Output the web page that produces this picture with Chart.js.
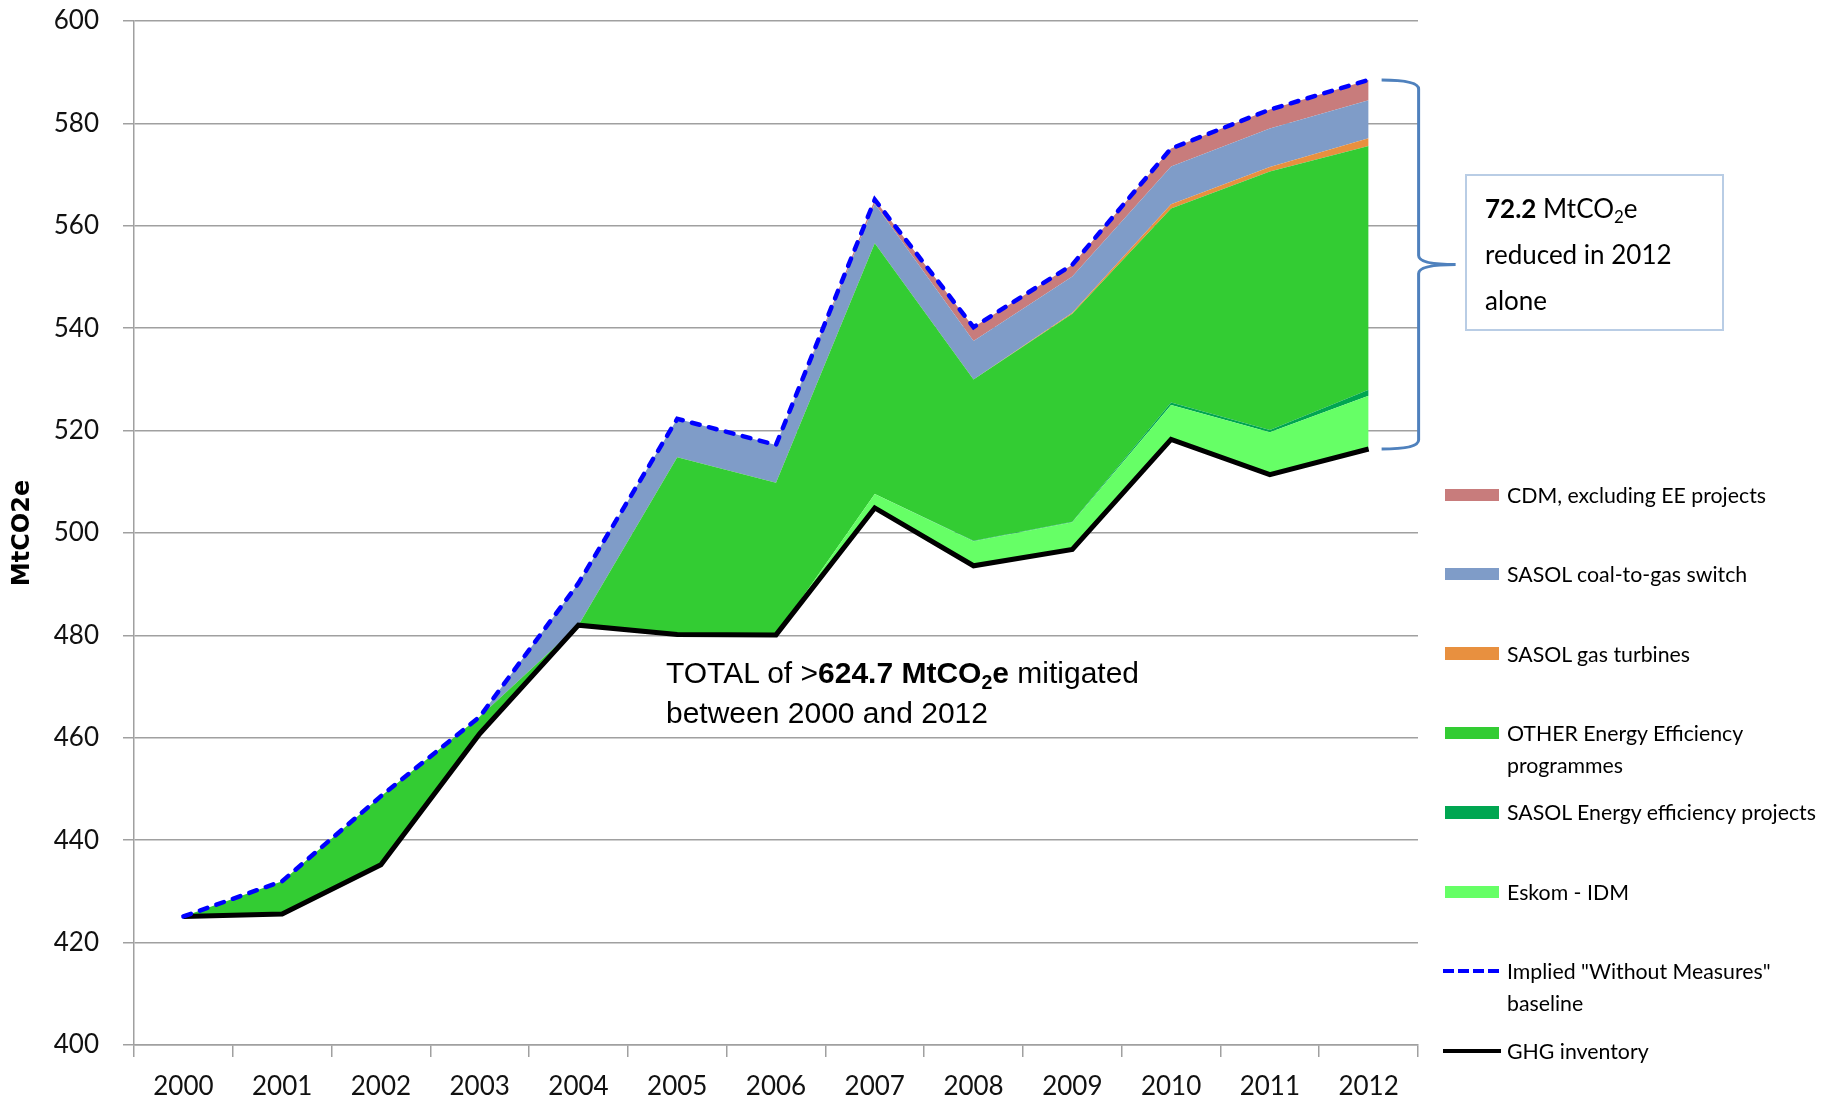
<!DOCTYPE html>
<html>
<head>
<meta charset="utf-8">
<script src="https://cdn.jsdelivr.net/npm/chart.js@4.4.1/dist/chart.umd.min.js"></script>
<style>
    body { margin: 0; background: #fff; }
    #wrap { position: relative; width: 1833px; height: 1106px; }
    #chart { position: absolute; left: 0; top: 0; }
    sub { font-size: 65%; vertical-align: baseline; position: relative; top: 0.3em; line-height: 0; }
    #total-note {
        position: absolute; left: 666px; top: 653px;
        font: 30px "Liberation Sans", Arial, sans-serif; line-height: 40px; color: #000;
        white-space: nowrap;
    }
    #callout {
        position: absolute; left: 1465px; top: 174px;
        border: 2px solid #b9cde5; padding: 9px 0 0 18px; box-sizing: border-box;
        font: 26px Lato, sans-serif; line-height: 46px; color: #000;
        width: 259px; height: 157px; white-space: nowrap;
    }
    .legend-item {
        position: absolute; left: 1445px; display: flex; align-items: flex-start;
        font: 21.3px Lato, sans-serif; line-height: 32px; color: #000;
    }
    .legend-swatch { width: 54px; height: 12.5px; margin-top: 9.75px; margin-right: 8px; flex: none; }
    .legend-text { white-space: pre; }
</style>
</head>
<body>
<div id="wrap">
    <canvas id="chart" width="1833" height="1106"></canvas>
    <div id="total-note">TOTAL of &gt;<b>624.7 MtCO<sub>2</sub>e</b> mitigated<br>between 2000 and 2012</div>
    <div id="callout"><b>72.2</b> MtCO<sub>2</sub>e<br>reduced in 2012<br>alone</div>
    <div id="legend"></div>
</div>
<script>
// Values (MtCO2e)
const years = ['2000', '2001', '2002', '2003', '2004', '2005', '2006', '2007', '2008', '2009', '2010', '2011', '2012'];
const ghgInventory     = [425.1, 425.6, 435.2, 460.8, 482.0, 480.2, 480.1, 504.9, 493.6, 496.8, 518.3, 511.4, 516.4];
const eskomIdm         = [0, 0, 0, 0, 0, 0, 0, 2.7, 4.8, 5.3, 6.7, 8.3, 10.4];
const sasolEfficiency  = [0, 0, 0, 0, 0, 0, 0, 0, 0.1, 0.1, 0.5, 0.4, 1.2];
const otherEfficiency  = [0, 6.4, 13.4, 3.3, 0, 34.6, 29.7, 49.0, 31.5, 40.6, 37.9, 50.5, 47.6];
const sasolGasTurbines = [0, 0, 0, 0, 0, 0, 0, 0, 0, 0.2, 0.8, 0.9, 1.5];
const sasolCoalToGas   = [0, 0, 0, 0, 8.2, 7.5, 7.4, 7.7, 7.5, 7.1, 7.4, 7.5, 7.4];
const cdmProjects      = [0, 0, 0, 0, 0, 0, 0, 0.8, 2.7, 2.3, 3.5, 3.7, 4.0];
const yMin = 400, yMax = 600, yStep = 20;

// stacked tops, starting on the inventory line
const layers = [
    { label: 'Eskom - IDM', data: eskomIdm, color: '#66ff66' },
    { label: 'SASOL Energy efficiency projects', data: sasolEfficiency, color: '#00a651' },
    { label: 'OTHER Energy Efficiency\nprogrammes', data: otherEfficiency, color: '#33cc33' },
    { label: 'SASOL gas turbines', data: sasolGasTurbines, color: '#e8903f' },
    { label: 'SASOL coal-to-gas switch', data: sasolCoalToGas, color: '#7f9cc8' },
    { label: 'CDM, excluding EE projects', data: cdmProjects, color: '#c87c7c' }
];

let runningTop = ghgInventory.slice();
let layerSets = layers.map(function (layer) {
    runningTop = runningTop.map((v, i) => Math.round((v + layer.data[i]) * 10) / 10);
    return {
        label: layer.label,
        data: runningTop.slice(),
        fill: '-1',
        backgroundColor: layer.color,
        borderWidth: 0,
        pointRadius: 0,
        tension: 0
    };
});
const withoutMeasures = runningTop.slice();

let datasets = [{
    label: 'GHG inventory',
    data: ghgInventory,
    borderColor: '#000',
    borderWidth: 5,
    borderJoinStyle: 'miter',
    fill: false,
    pointRadius: 0,
    order: -1
}].concat(layerSets).concat([{
    label: 'Implied "Without Measures"\nbaseline',
    data: withoutMeasures,
    borderColor: '#0000ff',
    borderWidth: 4.5,
    borderDash: [8, 9.5],
    borderCapStyle: 'round',
    fill: false,
    pointRadius: 0,
    order: -2
}]);

/**
 * Curly brace spanning the 2012 reduction
 */
const bracePlugin = {
    id: 'reductionBrace',
    afterDraw: function (chart) {
        let ctx = chart.ctx,
            last = years.length - 1,
            xEnd = chart.scales.x.getPixelForValue(last),
            top = chart.scales.y.getPixelForValue(withoutMeasures[last]),
            bottom = chart.scales.y.getPixelForValue(ghgInventory[last]),
            mid = (top + bottom) / 2,
            x0 = xEnd + 13, xs = xEnd + 50, tip = xEnd + 87, r = 9;

        ctx.save();
        ctx.strokeStyle = '#4f81bd';
        ctx.lineWidth = 3;
        ctx.beginPath();
        ctx.moveTo(x0, top);
        ctx.quadraticCurveTo(xs, top, xs, top + r);
        ctx.lineTo(xs, mid - r);
        ctx.quadraticCurveTo(xs, mid, tip, mid);
        ctx.quadraticCurveTo(xs, mid, xs, mid + r);
        ctx.lineTo(xs, bottom - r);
        ctx.quadraticCurveTo(xs, bottom, x0, bottom);
        ctx.stroke();
        ctx.restore();
    }
};

let chart = new Chart(document.getElementById('chart'), {
    type: 'line',
    data: { labels: years, datasets: datasets },
    plugins: [bracePlugin],
    options: {
        responsive: false,
        animation: false,
        layout: { padding: { left: 0, right: 415, top: 21, bottom: 0 } },
        plugins: { legend: { display: false }, tooltip: { enabled: false } },
        scales: {
            x: {
                offset: true,
                grid: { offset: true, drawOnChartArea: false, tickLength: 12, color: '#a0a0a0', lineWidth: 1.5 },
                border: { color: '#a0a0a0', width: 1.5 },
                ticks: { font: { family: 'Lato', size: 26 }, color: '#111', padding: 14, maxRotation: 0 },
                afterFit: function (scale) {
                    scale.height = 61;
                    scale.paddingLeft = 0;
                    scale.paddingRight = 0;
                }
            },
            y: {
                min: yMin, max: yMax,
                grid: { tickLength: 11, color: '#a0a0a0', lineWidth: 1.5 },
                border: { color: '#a0a0a0', width: 1.5 },
                ticks: { stepSize: yStep, font: { family: 'Lato', size: 26 }, color: '#111', padding: 24 },
                title: {
                    display: true, text: 'MtCO2e', color: '#000',
                    font: { family: 'DejaVu Sans', size: 24, weight: 'bold' },
                    padding: { top: 8, bottom: 0 }
                },
                afterFit: function (scale) {
                    scale.width = 134;
                    scale.paddingTop = 0;
                    scale.paddingBottom = 0;
                }
            }
        }
    }
});

/**
 * Legend: top layer first, then the two lines
 */
function buildLegend() {
    let $legend = document.getElementById('legend');
    let items = layerSets.slice().reverse().concat([datasets[datasets.length - 1], datasets[0]]);
    items.forEach(function (ds, i) {
        let el = document.createElement('div');
        el.className = 'legend-item';
        el.style.top = (494.8 + i * 79.4 - 16) + 'px';
        let sw = document.createElement('div');
        sw.className = 'legend-swatch';
        if (ds.fill === false) {
            sw.style.height = '4px';
            sw.style.width = '58px';
            sw.style.marginLeft = '-2px';
            sw.style.marginRight = '6px';
            sw.style.marginTop = '14px';
            if (ds.borderDash)
                sw.style.background = 'repeating-linear-gradient(to right, ' + ds.borderColor + ' 0 11px, transparent 11px 15px)';
            else
                sw.style.background = ds.borderColor;
        }
        else {
            sw.style.background = ds.backgroundColor;
        }
        let tx = document.createElement('div');
        tx.className = 'legend-text';
        tx.textContent = ds.label;
        el.appendChild(sw);
        el.appendChild(tx);
        $legend.appendChild(el);
    });
}
buildLegend();
</script>
</body>
</html>
